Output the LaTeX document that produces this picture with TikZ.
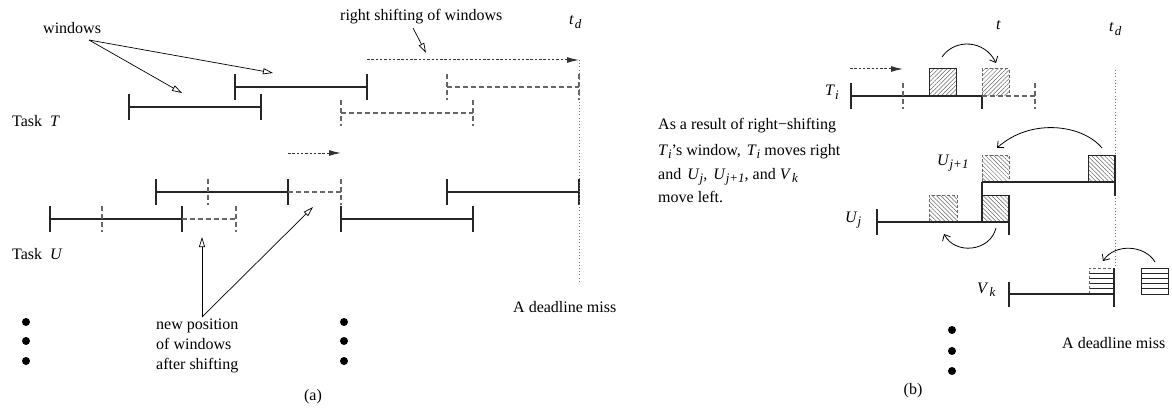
\documentclass[tikz,border=0pt]{standalone}
\usepackage{fontspec}
\setmainfont{Liberation Serif}
\usetikzlibrary{arrows.meta,patterns.meta}
\newcommand{\sbs}[1]{\raisebox{-0.5ex}{\fontsize{13}{13}\selectfont\itshape #1}}
\tikzset{
  win/.style={line width=1.3pt, draw=black!85},
  dwin/.style={line width=1.1pt, draw=black!60, dash pattern=on 5pt off 3pt},
  vdots/.style={line width=1pt, draw=black!55, dash pattern=on 1pt off 2.2pt},
  darr/.style={line width=1pt, draw=black!80, dash pattern=on 2.5pt off 1.8pt, -{Latex[length=12pt,width=6pt]}},
  oarr/.style={line width=0.7pt, -{Triangle[open,length=10pt,width=6pt]}},
  carr/.style={line width=0.8pt, -{Straight Barb[length=5pt,width=9pt]}},
  lbl/.style={font=\fontsize{16}{20}\selectfont, inner sep=0pt, anchor=base west},
  boxs/.style={line width=1pt, draw=black!85},
  boxd/.style={line width=1pt, draw=black!60, dash pattern=on 3pt off 2pt},
  hatchR/.style={pattern={Lines[angle=45,distance=3pt,line width=0.5pt]}, pattern color=black!60},
  hatchL/.style={pattern={Lines[angle=-45,distance=3pt,line width=0.5pt]}, pattern color=black!60},
  hline/.style={line width=1pt, draw=black!85},
}
\begin{document}
\begin{tikzpicture}[x=1pt,y=-1pt]
\useasboundingbox (0,0) rectangle (1172,409);

% ================= (a) =================
\node[lbl] (winlbl) at (43,34) {windows};
\node[lbl] (taskT) at (12,127) {Task\hspace{8pt}\textit{T}};
\node[lbl] (taskU) at (12,259) {Task\hspace{8pt}\textit{U}};
\node[lbl] (rsw) at (340,21) {right shifting of windows};
\node[lbl] (tda) at (569,25) {\textit{t}\hspace{1pt}\sbs{d}};
\node[lbl, align=left, anchor=north west] (newpos) at (156,319) {new position\\of windows\\after shifting};
\node[lbl] (dma) at (513,312) {A deadline miss};
\node[font=\fontsize{16}{20}\selectfont, inner sep=0pt] (capa) at (313,397) {(a)};

% task T windows
\draw[win] (129,94)--(129,120) (129,107)--(261,107) (261,94)--(261,120);
\draw[win] (235,74)--(235,100) (235,87)--(367,87) (367,74)--(367,100);
\draw[dwin] (341,100)--(341,126) (341,113)--(473,113) (473,100)--(473,126);
\draw[dwin] (447,74)--(447,100) (447,87)--(579,87) (579,74)--(579,100);

% task U windows
\draw[win] (156,179)--(156,205) (156,192)--(288,192) (288,179)--(288,205);
\draw[dwin] (208,179)--(208,205);
\draw[dwin] (288,192)--(341,192) (341,179)--(341,205);
\draw[win] (50,206)--(50,232) (50,219)--(182,219) (182,206)--(182,232);
\draw[dwin] (102,206)--(102,232);
\draw[dwin] (182,219)--(236,219) (236,206)--(236,232);
\draw[win] (341,206)--(341,232) (341,219)--(473,219) (473,206)--(473,232);
\draw[win] (447,179)--(447,205) (447,192)--(579,192) (579,179)--(579,205);

% deadline
\draw[vdots] (579,60)--(579,283);
\coordinate (ra1) at (367,60); \coordinate (ra2) at (579,60);
\draw[darr] (ra1)--(ra2);
\coordinate (rb1) at (288,153); \coordinate (rb2) at (341,153);
\draw[darr] (rb1)--(rb2);

% annotation arrows
\coordinate (wsrc) at (89,40);
\coordinate (wt1) at (182,93); \coordinate (wt2) at (273,73);
\draw[oarr] (wsrc)--(wt1);
\draw[oarr] (wsrc)--(wt2);
\coordinate (rs1) at (413,28); \coordinate (rs2) at (426,53);
\draw[oarr] (rs1)--(rs2);
\coordinate (np) at (202,317);
\coordinate (np1) at (202,237); \coordinate (np2) at (313,207);
\draw[oarr] (np)--(np1);
\draw[oarr] (np)--(np2);

% dots
\foreach \y in {322,341,361} {
  \fill (26,\y) circle[radius=4pt];
  \fill (344,\y) circle[radius=4pt];
}

% ================= (b) =================
\node[lbl] (Ti) at (825,96) {\textit{T}\sbs{i}};
\node[lbl] (tb) at (996,30) {\textit{t}};
\node[lbl] (tdb) at (1109,32) {\textit{t}\hspace{1pt}\sbs{d}};
\node[lbl] (Uj1) at (937,165) {\textit{U}\sbs{j+1}};
\node[lbl] (Uj) at (845,222) {\textit{U}\sbs{j}};
\node[lbl] (Vk) at (977,293) {\textit{V}\hspace{1pt}\sbs{k}};
\node[lbl] (p1) at (658,130) {As a result of right−shifting};
\node[lbl] (p2) at (658,155) {\textit{T}\sbs{i}’s window,\hspace{6pt}\textit{T}\sbs{i} moves right};
\node[lbl] (p3) at (658,179) {and\hspace{6pt}\textit{U}\sbs{j},\hspace{6pt}\textit{U}\sbs{j+1}, and \textit{V}\hspace{1pt}\sbs{k}};
\node[lbl] (p4) at (658,202) {move left.};
\node[lbl] (dmb) at (1062,348) {A deadline miss};
\node[font=\fontsize{16}{20}\selectfont, inner sep=0pt] (capb) at (913,391) {(b)};

% deadline line
\draw[vdots] (1115,70)--(1115,267);

% T_i row
\draw[win] (851,83)--(851,109) (851,96)--(982,96) (982,96)--(982,109);
\draw[dwin] (903,83)--(903,109) (1035,83)--(1035,109) (982,96)--(1035,96);
\draw[boxs, hatchR] (929,69) rectangle (956,96);
\fill[hatchR] (982,69) rectangle (1009,96);
\draw[boxd] (982,96)--(982,69)--(1009,69)--(1009,96);
\coordinate (dsa) at (850,69); \coordinate (dsb) at (903,69);
\draw[darr] (dsa)--(dsb);

% U_{j+1} row
\fill[hatchL] (982,155) rectangle (1009,182);
\draw[boxd] (982,182)--(982,155)--(1009,155)--(1009,182);
\draw[boxs, hatchL] (1088,155) rectangle (1115,182);
\draw[win] (982,182)--(1115,182) (982,182)--(982,222) (1115,155)--(1115,196);

% U_j row
\fill[hatchL] (929,195) rectangle (957,222);
\draw[boxd] (929,222)--(929,195)--(957,195)--(957,222);
\draw[boxs, hatchL] (982,195) rectangle (1009,222);
\draw[win] (877,209)--(877,235) (877,222)--(1009,222) (1009,195)--(1009,235);

% V_k row
\foreach \y in {273.2,278.4,283.6,288.8} {
  \draw[hline] (1089,\y)--(1114,\y);
  \draw[hline] (1141,\y)--(1168,\y);
}
\draw[boxd] (1089,294)--(1089,268)--(1114,268);
\draw[boxs] (1141,268) rectangle (1168,294);
\draw[win] (1009,282)--(1009,307) (1009,294)--(1114,294) (1114,268)--(1114,307);

% curved arrows
\coordinate (c1a) at (942,57); \coordinate (c1b) at (996,63);
\draw[carr] (c1a) .. controls (955,38) and (985,40) .. (c1b);
\coordinate (c2a) at (1102,148); \coordinate (c2b) at (997,148);
\draw[carr] (c2a) .. controls (1082,124) and (1030,118) .. (c2b);
\coordinate (c3a) at (996,228); \coordinate (c3b) at (944,234);
\draw[carr] (c3a) .. controls (990,252) and (955,255) .. (c3b);
\coordinate (c4a) at (1155,262); \coordinate (c4b) at (1103,261);
\draw[carr] (c4a) .. controls (1145,245) and (1115,243) .. (c4b);

% dots
\foreach \y in {330,351,371} {
  \fill (952,\y) circle[radius=4pt];
}
\end{tikzpicture}
\end{document}
